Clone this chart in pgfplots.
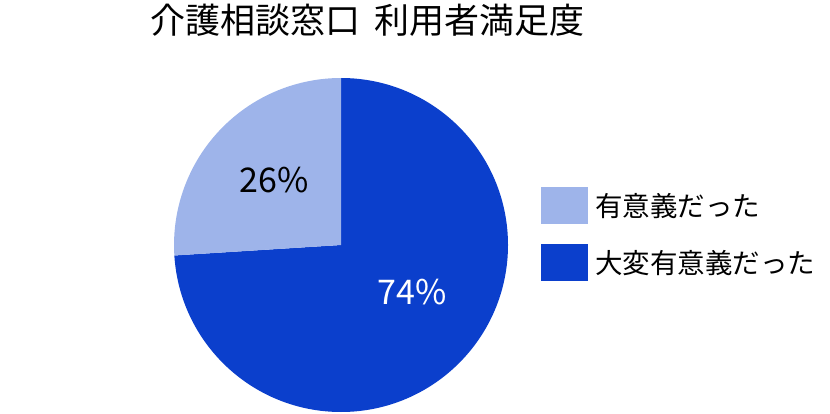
\documentclass[border=0pt]{standalone}
\usepackage{pgfplots}
\usepackage{pgfplotstable}
\pgfplotsset{compat=1.18}
\usepackage{fontspec}
\setmainfont{Noto Sans CJK JP}

\definecolor{lightblue}{RGB}{158,180,234}
\definecolor{darkblue}{RGB}{11,63,204}

% satisfaction shares (percent)
\pgfplotstableread{
share
26
74
}\satisfaction

\begin{document}
\begin{tikzpicture}
\path[use as bounding box] (0,0) rectangle (830pt,413pt);
\pgfplotstablegetelem{0}{share}\of\satisfaction \let\shareA\pgfplotsretval
\pgfplotstablegetelem{1}{share}\of\satisfaction \let\shareB\pgfplotsretval
\pgfmathsetmacro{\angB}{90-3.6*\shareB}
\pgfmathsetmacro{\angA}{\angB-3.6*\shareA}
\begin{axis}[
    width=830pt, height=413pt,
    scale only axis,
    xmin=0, xmax=830,
    ymin=0, ymax=413,
    hide axis,
    clip=false,
    legend cell align=left,
    legend image code/.code={\fill[#1, draw=none] (0pt,-18.5pt) rectangle (47pt,18.5pt);},
    legend style={
        at={(axis cs:541,226)}, anchor=north west,
        draw=none, fill=none, inner sep=0pt,
        font=\fontsize{27.5}{27.5}\selectfont,
        row sep=20pt,
        nodes={inner sep=0pt, anchor=west},
        /tikz/every odd column/.append style={column sep=7pt},
    },
]
% big slice: 大変有意義だった
\fill[darkblue] (axis cs:341,168) -- (axis cs:341,335)
    arc[start angle=90, end angle=\angB, radius=167pt] -- cycle;
% small slice: 有意義だった
\fill[lightblue] (axis cs:341,168) -- ({341+167*cos(\angB)},{168+167*sin(\angB)})
    arc[start angle=\angB, end angle=\angA, radius=167pt] -- cycle;

\addlegendimage{fill=lightblue, draw=none}
\addlegendentry{有意義だった}
\addlegendimage{fill=darkblue, draw=none}
\addlegendentry{大変有意義だった}

\node[font=\fontsize{35}{35}\selectfont, inner sep=0pt] at (axis cs:367,393)
    {介護相談窓口\hspace{0.4em}利用者満足度};
\node[font=\fontsize{34}{34}\selectfont, inner sep=0pt] at (axis cs:274,233)
    {\shareA\%};
\node[font=\fontsize{34}{34}\selectfont, inner sep=0pt, text=white] at (axis cs:412,121)
    {\shareB\%};
\end{axis}
\end{tikzpicture}
\end{document}
